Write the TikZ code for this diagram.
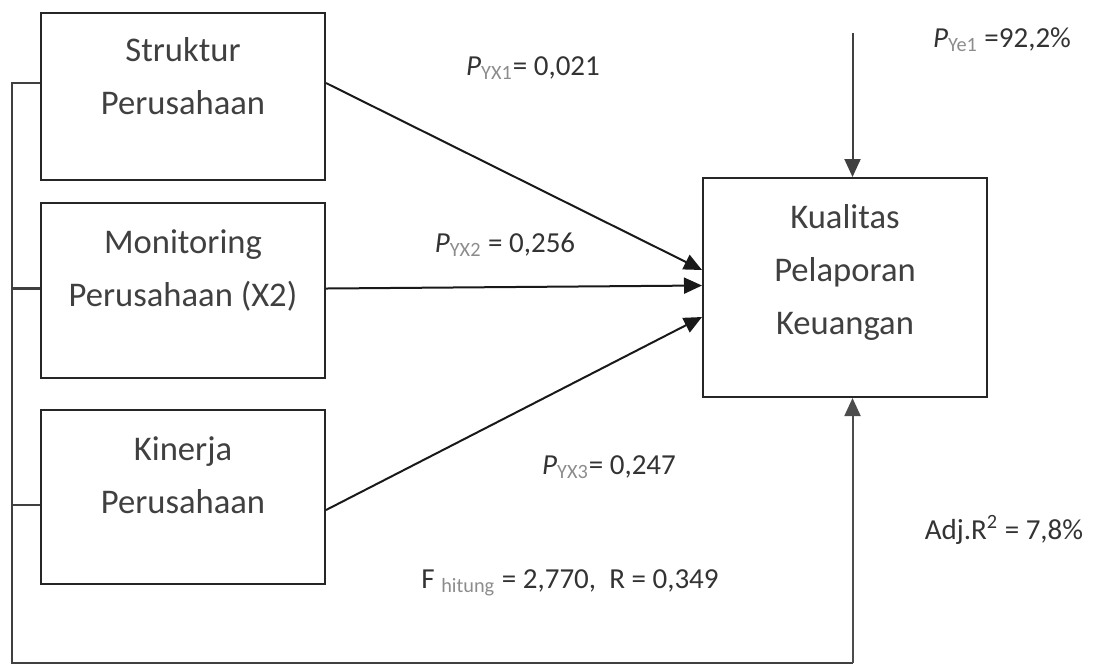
\documentclass[tikz,border=0pt]{standalone}
\usepackage{fontspec}
\setmainfont{Carlito}
\usetikzlibrary{arrows.meta}
\definecolor{textgray}{gray}{0.25}
\definecolor{subgray}{gray}{0.55}
\tikzset{varbox/.style={draw=black!85,line width=1pt,minimum width=142pt,inner sep=0pt}}
\tikzset{boxtext/.style={align=center,text=textgray,font=\fontsize{17.3pt}{26.5pt}\selectfont}}
\tikzset{coef/.style={text=black!80,font=\fontsize{14.5pt}{17pt}\selectfont,inner sep=0pt}}
\tikzset{path/.style={->,draw=black!90,line width=1pt}}
\tikzset{back/.style={draw=black!75,line width=1.1pt}}
\newcommand{\sub}[1]{\textsubscript{\color{subgray}#1}}

\begin{document}
\begin{tikzpicture}[x=0.5pt,y=-0.5pt,>={Triangle[length=9pt,width=8pt]}]
    \useasboundingbox (0,0) rectangle (1095,666);

    % Draw the independent variables
    \node[varbox,minimum height=83.5pt,
          label={[boxtext,yshift=10pt]center:Struktur\\Perusahaan}] (X1) at (183,96.5) {};
    \node[varbox,minimum height=87.5pt,
          label={[boxtext,yshift=10pt]center:Monitoring\\Perusahaan (X2)}] (X2) at (183,290.5) {};
    \node[varbox,minimum height=87pt,
          label={[boxtext,yshift=11pt]center:Kinerja\\Perusahaan}] (X3) at (183,497) {};

    % Draw the dependent variable
    \node[varbox,minimum height=109.5pt,
          label={[boxtext,yshift=7.5pt]center:Kualitas\\Pelaporan\\Keuangan}] (Y) at (845,287.5) {};

    \coordinate (corner) at (12,663);
    \coordinate (err) at (852.5,33);
    % where the bottom line meets the boxes
    \coordinate (in-X1) at ([yshift=6.75pt]X1.west);
    \coordinate (in-X2) at ([yshift=1pt]X2.west);
    \coordinate (in-X3) at ([yshift=-4pt]X3.west);

    % Path coefficients
    \draw[path] ([yshift=6.75pt]X1.east) -- ([yshift=8.75pt]Y.west);
    \draw[path] ([yshift=1pt]X2.east) -- ([yshift=1pt]Y.west);
    \draw[path] ([yshift=-6.5pt]X3.east) -- ([yshift=-14.75pt]Y.west);
    \draw[path,draw=black!75] (err) -- (err |- Y.north);

    % Simultaneous effect, back along the bottom
    \draw[back] (in-X1) -- (corner |- in-X1) -- (corner) -- (err |- corner);
    \draw[path,draw=black!70] (err |- corner) -- (err |- Y.south);
    \foreach \name in {X2,X3}
        \draw[back] (in-\name) -- (corner |- in-\name);

    % Labels
    \node[coef] (pyx1) at (533,68) {{\itshape P}\sub{YX1}= 0,021};
    \node[coef] (pyx2) at (505,245) {{\itshape P}\sub{YX2} = 0,256};
    \node[coef] (pyx3) at (609,467) {{\itshape P}\sub{YX3}= 0,247};
    \node[coef] (pye) at (1002,40) {{\itshape P}\sub{Ye1} =92,2\%};
    \node[coef] (fval) at (570,583) {F~\sub{hitung} = 2,770,~ R = 0,349};
    \node[coef] (adjr) at (1004,530) {Adj.R\textsuperscript{2} = 7,8\%};
\end{tikzpicture}
\end{document}
